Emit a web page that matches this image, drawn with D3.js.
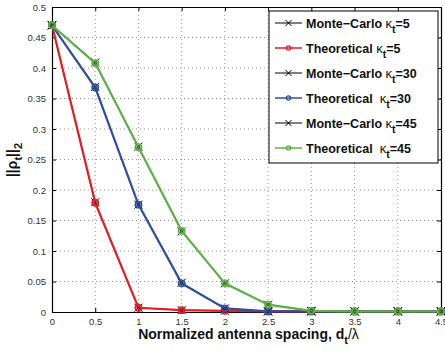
<!DOCTYPE html>
<html>
<head>
<meta charset="utf-8">
<script src="https://cdn.jsdelivr.net/npm/d3@7"></script>
<style>
  body { margin: 0; background: #fff; }
  svg { display: block; font-family: "Liberation Sans", Arial, sans-serif; }
</style>
</head>
<body>
<div id="chart"></div>
<script>
// spacing values (x)
var spacing = [0, 0.5, 1, 1.5, 2, 2.5, 3, 3.5, 4, 4.5];

// theoretical curves
var theo5  = [0.47, 0.179, 0.007, 0.003, 0.002, 0.001, 0.001, 0.001, 0.001, 0.001];
var theo30 = [0.47, 0.368, 0.176, 0.047, 0.006, 0.001, 0.001, 0.001, 0.001, 0.001];
var theo45 = [0.47, 0.408, 0.270, 0.133, 0.047, 0.012, 0.002, 0.001, 0.001, 0.001];

// monte-carlo points
var mc5  = [0.47, 0.180, 0.007, 0.003, 0.002, 0.001, 0.001, 0.001, 0.001, 0.001];
var mc30 = [0.47, 0.369, 0.176, 0.048, 0.006, 0.001, 0.001, 0.001, 0.001, 0.001];
var mc45 = [0.47, 0.409, 0.271, 0.132, 0.047, 0.012, 0.002, 0.001, 0.001, 0.001];

var xTicks = [0, 0.5, 1, 1.5, 2, 2.5, 3, 3.5, 4, 4.5];
var yTicks = [0, 0.05, 0.1, 0.15, 0.2, 0.25, 0.3, 0.35, 0.4, 0.45, 0.5];

var kappas = ["5", "30", "45"];
var colors = ["#e41e26", "#2f4f9f", "#5fb146"];

var svgWidth = 445;
var svgHeight = 350;

var margin = { top: 7, right: 4, bottom: 38, left: 52 };
var width = svgWidth - margin.left - margin.right;
var height = svgHeight - margin.top - margin.bottom;

var svg = d3.select("#chart")
  .append("svg")
  .attr("width", svgWidth)
  .attr("height", svgHeight);

var g = svg.append("g")
  .attr("transform", `translate(${margin.left}, ${margin.top})`);

var x = d3.scaleLinear().domain([0, 4.5]).range([0, width]);
var y = d3.scaleLinear().domain([0, 0.5]).range([height, 0]);

// grid
g.append("g").selectAll("line")
  .data(xTicks.slice(1, -1))
  .enter().append("line")
  .attr("x1", d => x(d)).attr("x2", d => x(d))
  .attr("y1", 0).attr("y2", height)
  .attr("stroke", "#999").attr("stroke-width", 1)
  .attr("stroke-dasharray", "1,3");

g.append("g").selectAll("line")
  .data(yTicks.slice(1, -1))
  .enter().append("line")
  .attr("y1", d => y(d)).attr("y2", d => y(d))
  .attr("x1", 0).attr("x2", width)
  .attr("stroke", "#999").attr("stroke-width", 1)
  .attr("stroke-dasharray", "1,3");

// axes (matlab box style, ticks inside)
var fmt = d => d3.format("~g")(d);
var bottomAxis = d3.axisBottom(x).tickValues(xTicks).tickFormat(fmt).tickSizeInner(-4).tickSizeOuter(0).tickPadding(6);
var leftAxis = d3.axisLeft(y).tickValues(yTicks).tickFormat(fmt).tickSizeInner(-4).tickSizeOuter(0).tickPadding(6);
var topAxis = d3.axisTop(x).tickValues(xTicks).tickFormat("").tickSizeInner(-4).tickSizeOuter(0);
var rightAxis = d3.axisRight(y).tickValues(yTicks).tickFormat("").tickSizeInner(-4).tickSizeOuter(0);

var xa = g.append("g").attr("transform", `translate(0, ${height})`).call(bottomAxis);
var ya = g.append("g").call(leftAxis);
var ta = g.append("g").call(topAxis);
var ra = g.append("g").attr("transform", `translate(${width}, 0)`).call(rightAxis);

[xa, ya, ta, ra].forEach(function(a) {
  a.select(".domain").attr("stroke", "#000").attr("stroke-width", 1.2);
  a.selectAll(".tick line").attr("stroke", "#000");
  a.selectAll("text").attr("font-size", "9.5px").attr("fill", "#333")
    .attr("font-family", "Liberation Sans, Arial, sans-serif");
});

var line = d3.line()
  .x((d, i) => x(spacing[i]))
  .y(d => y(d));

var theo = [theo5, theo30, theo45];
var mc = [mc5, mc30, mc45];

function drawX(sel, cx, cy, s) {
  sel.append("path")
    .attr("d", `M${cx - s},${cy - s}L${cx + s},${cy + s}M${cx - s},${cy + s}L${cx + s},${cy - s}`)
    .attr("stroke", "#000").attr("stroke-width", 1).attr("fill", "none");
}

// series
theo.forEach(function(vals, k) {
  var sg = g.append("g");
  // monte-carlo line + x markers
  sg.append("path").datum(mc[k]).attr("d", line)
    .attr("fill", "none").attr("stroke", "#000").attr("stroke-width", 1);
  mc[k].forEach(function(v, i) { drawX(sg, x(spacing[i]), y(v), 4); });
  // theoretical line + circle markers
  sg.append("path").datum(vals).attr("d", line)
    .attr("fill", "none").attr("stroke", colors[k]).attr("stroke-width", 2.2);
  sg.selectAll("circle").data(vals).enter().append("circle")
    .attr("cx", (d, i) => x(spacing[i]))
    .attr("cy", d => y(d))
    .attr("r", 3.2)
    .attr("fill", colors[k]).attr("fill-opacity", 0.6)
    .attr("stroke", colors[k]).attr("stroke-width", 1.5);
  vals.forEach(function(v, i) {
    sg.append("circle").attr("cx", x(spacing[i])).attr("cy", y(v)).attr("r", 1.2)
      .attr("fill", "none").attr("stroke", "#222").attr("stroke-width", 0.6);
  });
});

// legend
var lg = svg.append("g").attr("transform", "translate(269, 11)");
lg.append("rect").attr("width", 169).attr("height", 152)
  .attr("fill", "#fff").attr("stroke", "#000").attr("stroke-width", 1);

var entries = [];
kappas.forEach(function(kp, k) {
  entries.push({ name: "Monte\u2212Carlo", kp: kp, color: "#000", mc: true, gap: "" });
  entries.push({ name: "Theoretical", kp: kp, color: colors[k], mc: false, gap: k > 0 ? "\u00a0" : "" });
});

entries.forEach(function(e, i) {
  var yy = 12 + i * 25;
  var row = lg.append("g").attr("transform", `translate(0, ${yy})`);
  row.append("line").attr("x1", 6).attr("x2", 33).attr("y1", 0).attr("y2", 0)
    .attr("stroke", e.color).attr("stroke-width", e.mc ? 1 : 1.5);
  if (e.mc) {
    drawX(row, 19.5, 0, 3);
  } else {
    row.append("circle").attr("cx", 19.5).attr("cy", 0).attr("r", 2.2)
      .attr("fill", "none").attr("stroke", e.color).attr("stroke-width", 1.2);
  }
  var t = row.append("text").attr("x", 37).attr("y", 4.5)
    .attr("font-size", "12.5px").attr("font-weight", "bold").attr("fill", "#111");
  t.append("tspan").text(e.name + " " + e.gap);
  t.append("tspan").attr("font-weight", "normal").attr("font-size", "13px").text("\u03ba");
  t.append("tspan").attr("dy", 5).attr("font-size", "10.5px").text("t");
  t.append("tspan").attr("dy", -5).text("=" + e.kp);
});

// axis labels
var xl = svg.append("text")
  .attr("x", margin.left + width / 2 + 2)
  .attr("y", 339)
  .attr("text-anchor", "middle")
  .attr("font-size", "14px").attr("font-weight", "bold").attr("fill", "#111");
xl.append("tspan").text("Normalized antenna spacing, d");
xl.append("tspan").attr("dy", 5).attr("font-size", "11px").text("t");
xl.append("tspan").attr("dy", -5).attr("font-weight", "normal").text("/\u03bb");

var yl = svg.append("text")
  .attr("transform", "translate(17, 160) rotate(-90)")
  .attr("text-anchor", "middle")
  .attr("font-size", "14px").attr("font-weight", "bold").attr("fill", "#111");
yl.append("tspan").text("||\u03c1");
yl.append("tspan").attr("dy", 5).attr("font-size", "11px").text("t");
yl.append("tspan").attr("dy", -5).text("||");
yl.append("tspan").attr("dy", 5).attr("font-size", "11px").text("2");
</script>
</body>
</html>
